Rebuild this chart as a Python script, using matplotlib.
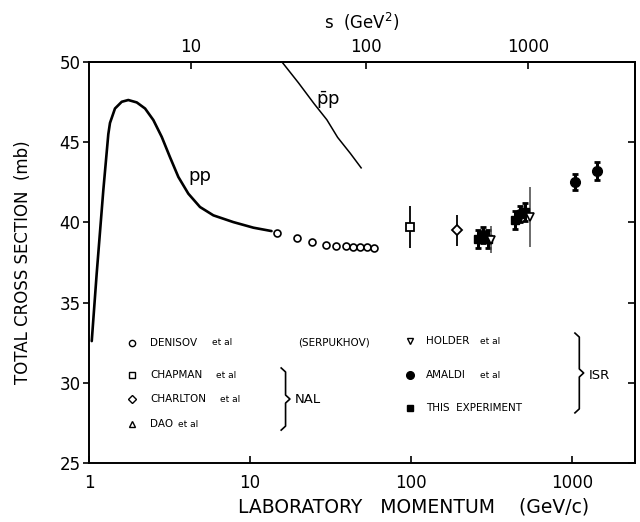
import numpy as np
import matplotlib
matplotlib.use("Agg")
import matplotlib.pyplot as plt
import matplotlib.ticker as mticker

# proton mass (GeV), used for s = 2m^2 + 2mE on the top axis
M = 0.938

# pp total cross section curve (low energy compilation)
pp_p = [1.04, 1.116, 1.227, 1.318, 1.35, 1.45, 1.597, 1.754, 1.98, 2.23,
        2.51, 2.83, 3.18, 3.59, 4.14, 4.89, 5.92, 7.87, 10.5, 13.6]
pp_sig = [32.6, 36.8, 42.0, 45.5, 46.2, 47.1, 47.52, 47.63, 47.48, 47.1,
          46.38, 45.33, 44.08, 42.83, 41.79, 40.96, 40.44, 40.02, 39.67, 39.46]

# pbar-p curve
pbp_p = [15.8, 20, 25, 30, 35, 42, 49]
pbp_sig = [50.0, 48.7, 47.4, 46.4, 45.3, 44.3, 43.4]

# Denisov et al (Serpukhov)
den_p = [14.8, 19.5, 24.3, 29.6, 34.2, 39.3, 43.8, 48.2, 53.1, 58.9]
den_sig = [39.33, 39.04, 38.77, 38.61, 38.5, 38.5, 38.46, 38.46, 38.46, 38.39]

# NAL
chap_p, chap_sig, chap_err = [98.6], [39.7], [1.3]
charl_p, charl_sig, charl_err = [194], [39.5], [0.95]

# ISR
hold_p, hold_sig, hold_err = [316, 549], [38.92, 40.33], [0.83, 1.85]
ama_p = [281, 474, 1040, 1430]
ama_sig = [39.19, 40.54, 42.52, 43.21]
ama_err = [0.5, 0.5, 0.48, 0.57]
this_p = [262, 302, 443, 508]
this_sig = [38.98, 38.98, 40.13, 40.64]
this_err = [0.55, 0.55, 0.55, 0.55]

xticks = [1, 10, 100, 1000]
sticks = [10, 100, 1000]
yticks = [25, 30, 35, 40, 45, 50]


def p2s(p):
    p = np.asarray(p, dtype=float)
    return 2 * M**2 + 2 * M * np.sqrt(p**2 + M**2)


def s2p(s):
    s = np.asarray(s, dtype=float)
    e = (s - 2 * M**2) / (2 * M)
    return np.sqrt(np.clip(e**2 - M**2, 1e-6, None))


fig = plt.figure(figsize=(6.4, 5.22), dpi=100)
ax = fig.add_axes([89 / 640, 1 - 463 / 522, 546 / 640, 401 / 522])

ax.plot(pp_p, pp_sig, color='black', lw=1.9, solid_capstyle='round')
ax.plot(pbp_p, pbp_sig, color='black', lw=1.1)

ax.plot(den_p, den_sig, 'o', ms=5, mfc='white', mec='black', mew=1.2)
ax.errorbar(chap_p, chap_sig, yerr=chap_err, fmt='s', ms=6, mfc='white',
            mec='black', mew=1.3, ecolor='black', elinewidth=1.3)
ax.errorbar(charl_p, charl_sig, yerr=charl_err, fmt='D', ms=5.5, mfc='white',
            mec='black', mew=1.3, ecolor='black', elinewidth=1.3)
ax.errorbar(this_p, this_sig, yerr=this_err, fmt='s', ms=6, color='black',
            elinewidth=2.2, capsize=2, capthick=2)
ax.errorbar(ama_p, ama_sig, yerr=ama_err, fmt='o', ms=7, color='black',
            elinewidth=2.2, capsize=2, capthick=2)
ax.errorbar(hold_p, hold_sig, yerr=hold_err, fmt='v', ms=6, mfc='white',
            mec='black', mew=1.2, ecolor='#444444', elinewidth=1.1)

ax.text(4.89, 42.9, 'pp', fontsize=13, ha='center', va='center')
ax.text(30.5, 47.6, r'$\bar{\mathrm{p}}\mathrm{p}$', fontsize=13,
        ha='center', va='center')

# axes
ax.set_xscale('log')
ax.set_xlim(1, 2460)
ax.set_ylim(25, 50)
ax.set_xticks(xticks, labels=[str(t) for t in xticks])
ax.xaxis.set_minor_locator(mticker.NullLocator())
ax.set_yticks(yticks)
ax.tick_params(axis='x', direction='in', length=5, width=1.2, pad=8,
               labelsize=12, top=False)
ax.tick_params(axis='y', direction='out', length=4, width=1.2, pad=2,
               labelsize=12)
for sp in ax.spines.values():
    sp.set_linewidth(1.4)

secx = ax.secondary_xaxis('top', functions=(p2s, s2p))
secx.set_xticks(sticks, labels=[str(t) for t in sticks])
secx.xaxis.set_minor_locator(mticker.NullLocator())
secx.tick_params(direction='in', length=5, width=1.2, labelsize=12, pad=4)
secx.spines['top'].set_linewidth(1.4)
secx.set_xlabel(r's  (GeV$^2$)', fontsize=12, labelpad=7)

secy = ax.secondary_yaxis('right')
secy.set_yticks(yticks)
secy.tick_params(direction='in', length=5, width=1.2, labelright=False)
secy.spines['right'].set_linewidth(1.4)

ax.set_xlabel('LABORATORY   MOMENTUM    (GeV/c)', fontsize=13.5)
ax.xaxis.set_label_coords(0.595, -0.085)
ax.set_ylabel('TOTAL CROSS SECTION  (mb)', fontsize=12)
ax.yaxis.set_label_coords(-0.105, 0.5)

# hand-made legend
tr = ax.transAxes
kw = dict(transform=tr, clip_on=False, color='black', linestyle='none')
ax.plot([0.078], [0.300], 'o', ms=4.5, mfc='white', mew=1, **kw)
ax.plot([0.078], [0.219], 's', ms=4.5, mfc='white', mew=1, **kw)
ax.plot([0.078], [0.159], 'D', ms=4.5, mfc='white', mew=1, **kw)
ax.plot([0.078], [0.097], '^', ms=5, mfc='white', mew=1, **kw)
ax.plot([0.588], [0.304], 'v', ms=5, mfc='white', mew=1, **kw)
ax.plot([0.588], [0.219], 'o', ms=5.5, **kw)
ax.plot([0.588], [0.136], 's', ms=4.5, **kw)

lab = dict(transform=tr, fontsize=7.5, va='center', ha='left')
sm = dict(transform=tr, fontsize=6.5, va='center', ha='left')
ax.text(0.112, 0.300, 'DENISOV', **lab)
ax.text(0.226, 0.300, 'et al', **sm)
ax.text(0.383, 0.300, '(SERPUKHOV)', **lab)
ax.text(0.112, 0.219, 'CHAPMAN', **lab)
ax.text(0.232, 0.219, 'et al', **sm)
ax.text(0.112, 0.159, 'CHARLTON', **lab)
ax.text(0.240, 0.159, 'et al', **sm)
ax.text(0.112, 0.097, 'DAO', **lab)
ax.text(0.163, 0.097, 'et al', **sm)
ax.text(0.617, 0.304, 'HOLDER', **lab)
ax.text(0.716, 0.304, 'et al', **sm)
ax.text(0.617, 0.219, 'AMALDI', **lab)
ax.text(0.716, 0.219, 'et al', **sm)
ax.text(0.617, 0.136, 'THIS  EXPERIMENT', **lab)
ax.text(0.377, 0.159, 'NAL', transform=tr, fontsize=9.5, va='center',
        ha='left')
ax.text(0.915, 0.219, 'ISR', transform=tr, fontsize=9.5, va='center',
        ha='left')


def brace(x, y0, y1, w=0.008):
    mid = 0.5 * (y0 + y1)
    xs = [x - w, x, x, x + w, x, x, x - w]
    ys = [y1, y1 - 0.01, mid + 0.01, mid, mid - 0.01, y0 + 0.01, y0]
    ax.plot(xs, ys, color='black', lw=1.2, transform=tr, clip_on=False)


brace(0.360, 0.082, 0.237)
brace(0.898, 0.125, 0.324)

fig.savefig('out.png', dpi=100)
